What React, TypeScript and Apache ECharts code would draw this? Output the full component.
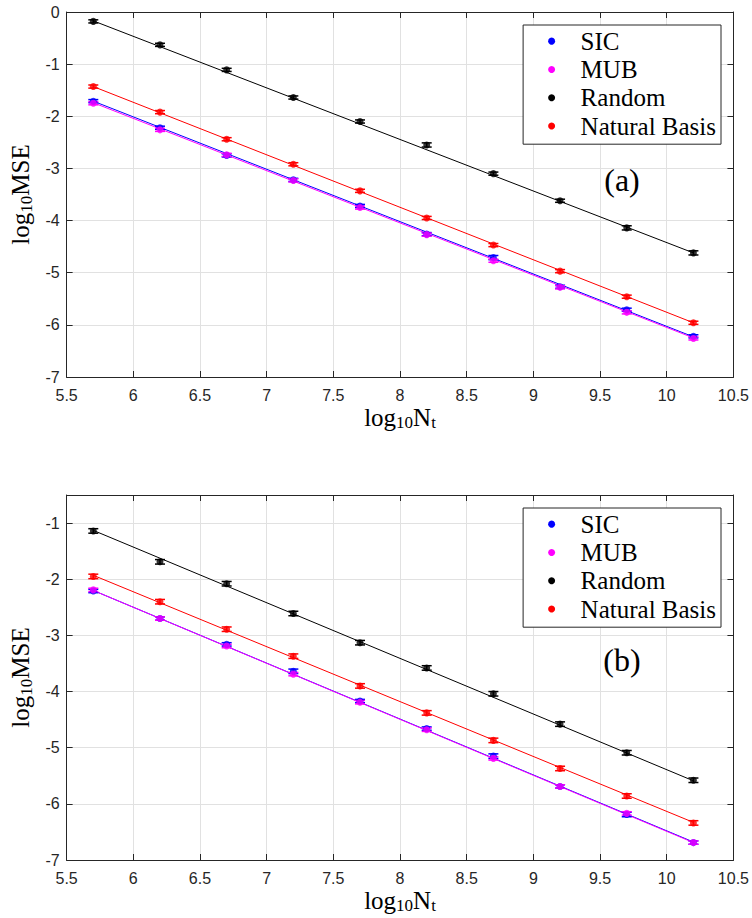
import React, { useEffect, useRef } from "react";
import * as echarts from "echarts";

// ---- data ----
const xValues = [5.7, 6.2, 6.7, 7.2, 7.7, 8.2, 8.7, 9.2, 9.7, 10.2];
const methods = ["SIC", "MUB", "Random", "Natural Basis"];
const colors = ["#0000ff", "#ff00ff", "#000000", "#ff0000"];
const xTicks = { min: 5.5, max: 10.5, interval: 0.5 };
const yTicksA = { min: -7, max: 0, interval: 1 };
const yTicksB = { min: -7, max: -0.5, interval: 1 };
const panelLabels = ["(a)", "(b)"];

// panel (a)
const sicA = [-1.71, -2.22, -2.75, -3.22, -3.72, -4.26, -4.71, -5.27, -5.71, -6.22];
const mubA = [-1.75, -2.26, -2.74, -3.23, -3.75, -4.27, -4.77, -5.28, -5.76, -6.26];
const randomA = [-0.18, -0.63, -1.11, -1.64, -2.1, -2.55, -3.1, -3.62, -4.14, -4.62];
const naturalA = [-1.43, -1.92, -2.44, -2.92, -3.43, -3.95, -4.47, -4.97, -5.46, -5.96];
const sicErrA = [0.03, 0.03, 0.03, 0.03, 0.03, 0.03, 0.04, 0.03, 0.03, 0.03];
const mubErrA = [0.03, 0.03, 0.03, 0.03, 0.03, 0.03, 0.03, 0.03, 0.03, 0.03];
const randomErrA = [0.03, 0.03, 0.03, 0.03, 0.03, 0.04, 0.03, 0.03, 0.04, 0.04];
const naturalErrA = [0.03, 0.03, 0.03, 0.03, 0.03, 0.03, 0.03, 0.03, 0.03, 0.03];

// panel (b)
const sicB = [-2.21, -2.7, -3.16, -3.64, -4.17, -4.66, -5.15, -5.69, -6.19, -6.69];
const mubB = [-2.19, -2.7, -3.19, -3.69, -4.19, -4.68, -5.19, -5.69, -6.17, -6.69];
const randomB = [-1.14, -1.69, -2.08, -2.61, -3.13, -3.58, -4.04, -4.58, -5.09, -5.58];
const naturalB = [-1.95, -2.4, -2.89, -3.37, -3.9, -4.38, -4.87, -5.37, -5.86, -6.34];
const sicErrB = [0.03, 0.03, 0.03, 0.04, 0.03, 0.03, 0.04, 0.03, 0.04, 0.03];
const mubErrB = [0.03, 0.03, 0.03, 0.03, 0.03, 0.03, 0.03, 0.03, 0.03, 0.03];
const randomErrB = [0.04, 0.04, 0.04, 0.04, 0.04, 0.04, 0.04, 0.04, 0.04, 0.04];
const naturalErrB = [0.04, 0.04, 0.04, 0.04, 0.04, 0.04, 0.04, 0.04, 0.04, 0.04];

// fitted lines (endpoints)
const fitX = [5.7, 10.2];
const sicFitA = [-1.71, -6.23];
const mubFitA = [-1.74, -6.25];
const randomFitA = [-0.17, -4.62];
const naturalFitA = [-1.43, -5.96];
const sicFitB = [-2.2, -6.68];
const mubFitB = [-2.2, -6.69];
const randomFitB = [-1.13, -5.59];
const naturalFitB = [-1.93, -6.33];

const SERIF = "'Liberation Serif', 'DejaVu Serif', serif";
const SANS = "'Liberation Sans', Arial, sans-serif";
const AX = "#262626";

const panels = [
  {
    values: [sicA, mubA, randomA, naturalA],
    errs: [sicErrA, mubErrA, randomErrA, naturalErrA],
    fits: [sicFitA, mubFitA, randomFitA, naturalFitA],
    yTicks: yTicksA,
    grid: { left: 64, top: 12, width: 671, height: 365 },
    legendTop: 25,
    label: { x: 622, y: 180 },
  },
  {
    values: [sicB, mubB, randomB, naturalB],
    errs: [sicErrB, mubErrB, randomErrB, naturalErrB],
    fits: [sicFitB, mubFitB, randomFitB, naturalFitB],
    yTicks: yTicksB,
    grid: { left: 64, top: 495, width: 671, height: 365 },
    legendTop: 508,
    label: { x: 622, y: 660 },
  },
];

const nameRich = {
  a: { fontFamily: SERIF, fontSize: 25, lineHeight: 28, color: "#000" },
  s: { fontFamily: SERIF, fontSize: 17, lineHeight: 20, verticalAlign: "bottom", color: "#000" },
};

function buildOption() {
  const grid: any[] = [];
  const xAxis: any[] = [];
  const yAxis: any[] = [];
  const series: any[] = [];
  const legend: any[] = [];
  const graphic: any[] = [];

  panels.forEach((p, pi) => {
    grid.push(p.grid);
    const common = {
      gridIndex: pi,
      type: "value",
      axisLine: { show: true, onZero: false, lineStyle: { color: AX, width: 1 } },
      axisTick: { show: true, inside: true, length: 6, lineStyle: { color: AX } },
    };
    xAxis.push({
      ...common,
      position: "bottom",
      ...xTicks,
      name: "{a|log}{s|10}{a|N}{s|t}",
      nameLocation: "middle",
      nameGap: 26,
      nameTextStyle: { rich: nameRich },
      axisLabel: { color: AX, fontFamily: SANS, fontSize: 16, margin: 10 },
      splitLine: { show: true, lineStyle: { color: "#e1e1e1", width: 1 } },
    });
    xAxis.push({
      ...common,
      position: "top",
      ...xTicks,
      axisLabel: { show: false },
      splitLine: { show: false },
    });
    yAxis.push({
      ...common,
      position: "left",
      ...p.yTicks,
      name: "{a|log}{s|10}{a|MSE}",
      nameLocation: "middle",
      nameGap: 27,
      nameTextStyle: { rich: nameRich },
      axisLabel: {
        color: AX,
        fontFamily: SANS,
        fontSize: 16,
        margin: 7,
        formatter: (v: number) => (Number.isInteger(v) ? String(v) : ""),
      },
      splitLine: { show: true, lineStyle: { color: "#e1e1e1", width: 1 } },
    });
    yAxis.push({
      ...common,
      position: "right",
      ...p.yTicks,
      axisLabel: { show: false },
      splitLine: { show: false },
    });

    const xi = pi * 2;
    const yi = pi * 2;
    methods.forEach((m, mi) => {
      series.push({
        type: "line",
        name: m,
        xAxisIndex: xi,
        yAxisIndex: yi,
        data: fitX.map((x, k) => [x, p.fits[mi][k]]),
        showSymbol: false,
        symbol: "none",
        lineStyle: { color: colors[mi], width: 1 },
        itemStyle: { color: colors[mi] },
        silent: true,
        z: 2,
      });
    });
    methods.forEach((m, mi) => {
      const col = colors[mi];
      series.push({
        type: "custom",
        name: m,
        xAxisIndex: xi,
        yAxisIndex: yi,
        data: xValues.map((x, k) => [x, p.values[mi][k], p.errs[mi][k]]),
        encode: { x: 0, y: 1 },
        itemStyle: { color: col },
        z: 3,
        renderItem: (params: any, api: any) => {
          const x = api.value(0);
          const y = api.value(1);
          const e = api.value(2);
          const hi = api.coord([x, y + e]);
          const lo = api.coord([x, y - e]);
          const hw = 5;
          const style = { stroke: col, lineWidth: 1.5 };
          return {
            type: "group",
            children: [
              { type: "line", shape: { x1: hi[0], y1: hi[1], x2: lo[0], y2: lo[1] }, style },
              { type: "line", shape: { x1: hi[0] - hw, y1: hi[1], x2: hi[0] + hw, y2: hi[1] }, style },
              { type: "line", shape: { x1: lo[0] - hw, y1: lo[1], x2: lo[0] + hw, y2: lo[1] }, style },
            ],
          };
        },
      });
      series.push({
        type: "scatter",
        name: m,
        xAxisIndex: xi,
        yAxisIndex: yi,
        data: xValues.map((x, k) => [x, p.values[mi][k]]),
        symbol: "circle",
        symbolSize: 7,
        itemStyle: { color: col },
        z: 4,
      });
    });

    legend.push({
      data: methods,
      orient: "vertical",
      right: 31,
      top: p.legendTop,
      icon: "circle",
      itemWidth: 48,
      itemHeight: 7,
      itemGap: 0,
      padding: [2, 5, 4, 25],
      borderColor: AX,
      borderWidth: 1,
      backgroundColor: "#ffffff",
      selectedMode: false,
      textStyle: { fontFamily: SERIF, fontSize: 25, color: "#000", lineHeight: 28.3 },
    });

    graphic.push({
      type: "text",
      x: p.label.x,
      y: p.label.y,
      style: {
        text: panelLabels[pi],
        fontFamily: SERIF,
        fontSize: 32,
        fill: "#000",
        align: "center",
        verticalAlign: "middle",
      },
      z: 10,
    });
  });

  return {
    animation: false,
    backgroundColor: "#ffffff",
    grid,
    xAxis,
    yAxis,
    series,
    legend,
    graphic,
  };
}

export default function App() {
  const ref = useRef<HTMLDivElement>(null);
  useEffect(() => {
    if (!ref.current) return;
    const chart = echarts.init(ref.current, undefined, { renderer: "svg" });
    chart.setOption(buildOption() as any);
    return () => chart.dispose();
  }, []);
  return (
    <div
      ref={ref}
      style={{ position: "fixed", left: 0, top: 0, width: 752, height: 918, background: "#fff" }}
    />
  );
}
